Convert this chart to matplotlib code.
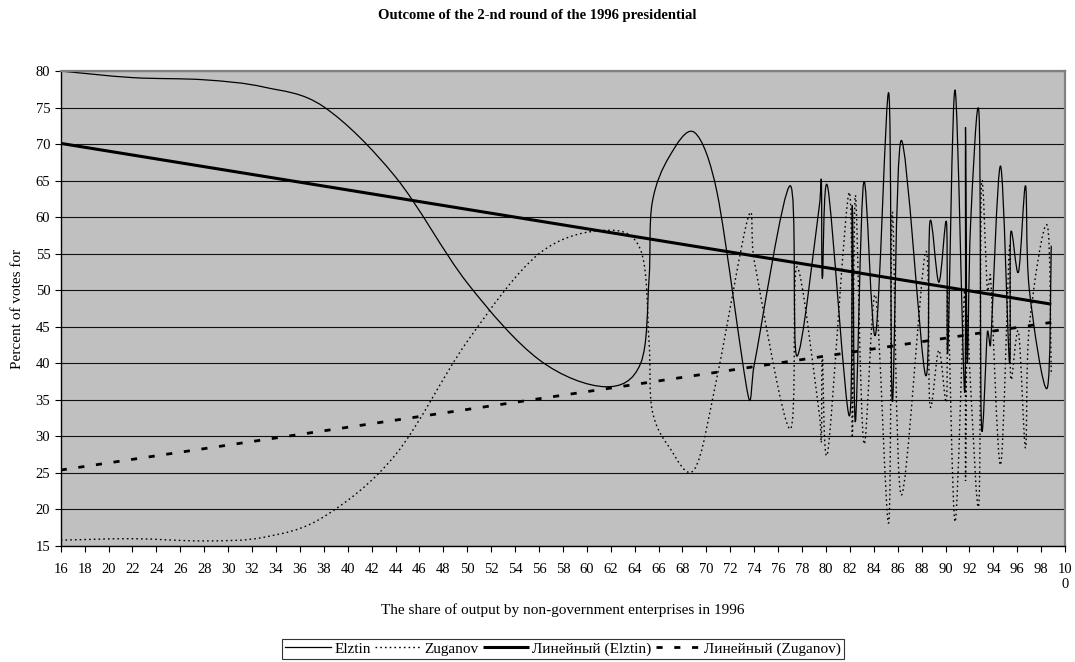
import matplotlib
matplotlib.use("Agg")
import matplotlib.pyplot as plt
from matplotlib.path import Path
from matplotlib.patches import PathPatch
import numpy as np

plt.rcParams['font.family'] = ['Liberation Serif', 'DejaVu Serif']

# share of output by non-government enterprises (x) and votes (y)
share = [16, 22, 28, 33, 38, 44, 50, 56, 61.5, 64.5, 65.2, 65.46, 66.9, 69.0, 70.9,
         73.5, 74.0, 77.0, 77.56, 79.45, 79.62, 79.7, 80.15, 81.95, 82.2, 82.46,
         83.16, 84.14, 85.25, 85.55, 86.29, 88.32, 88.69, 89.44, 90.08, 90.19, 90.8,
         91.6, 91.67, 91.81, 92.09, 92.8, 93.0, 93.5, 93.76, 94.6, 95.35, 95.45,
         96.1, 96.69, 97.0, 98.5, 98.84]
elztin = [80.0, 79.1, 78.8, 77.8, 75.1, 65.5, 51.0, 40.5, 36.8, 40.0, 51.5, 61.9, 68.3,
          71.6, 63.3, 35.5, 39.8, 64.3, 41.0, 61.6, 64.8, 51.6, 64.1, 32.8, 61.6, 32.0,
          64.8, 43.9, 77.0, 34.8, 70.5, 38.4, 59.3, 51.1, 59.3, 41.6, 77.4,
          36.0, 72.3, 40.2, 58.9, 74.1, 31.6, 44.3, 42.5, 67.0, 40.0, 57.8,
          52.5, 64.3, 50.2, 36.6, 56.1]
zuganov = [15.8, 16.0, 15.7, 16.2, 19.0, 27.5, 43.0, 55.0, 58.2, 55.5, 43.0, 33.6, 28.5,
           25.5, 38.2, 60.0, 54.0, 31.0, 53.2, 33.0, 29.5, 41.0, 27.9, 63.4, 29.8, 63.0,
           29.1, 49.3, 18.2, 60.7, 22.0, 55.2, 34.3, 41.8, 34.8, 50.0, 18.3,
           50.0, 23.9, 46.1, 37.0, 21.1, 64.3, 50.0, 52.0, 26.1, 56.0, 38.0,
           44.3, 28.4, 45.0, 58.9, 38.4]

# linear trend lines (end points)
trend_x = [16, 98.84]
trend_elztin = [70.1, 48.1]
trend_zuganov = [25.4, 45.6]


def smooth_path(ax, x, y):
    # Excel-like smoothed line: Catmull-Rom bezier built in screen space
    pts = ax.transData.transform(np.column_stack([x, y]))
    n = len(pts)
    verts = [pts[0]]
    codes = [Path.MOVETO]
    for i in range(n - 1):
        p0 = pts[max(i - 1, 0)]
        p1 = pts[i]
        p2 = pts[i + 1]
        p3 = pts[min(i + 2, n - 1)]
        seg = np.hypot(*(p2 - p1))
        t1 = (p2 - p0) / 6.0
        t2 = (p3 - p1) / 6.0
        l1 = np.hypot(*t1)
        l2 = np.hypot(*t2)
        if l1 > seg / 2 and l1 > 0:
            t1 = t1 * (seg / 2) / l1
        if l2 > seg / 2 and l2 > 0:
            t2 = t2 * (seg / 2) / l2
        verts += [p1 + t1, p2 - t2, p2]
        codes += [Path.CURVE4] * 3
    verts = ax.transData.inverted().transform(np.array(verts))
    return Path(verts, codes)


fig = plt.figure(figsize=(10.75, 6.62), dpi=100)
ax = fig.add_axes([0.0565, 0.1752, 0.9343, 0.7175])
ax.set_facecolor('#C0C0C0')
ax.set_xlim(16, 100)
ax.set_ylim(15, 80)

ax.set_xticks(np.arange(16, 101, 2))
xlabels = [str(v) for v in range(16, 100, 2)] + ['10\n0']
ax.set_xticklabels(xlabels, fontsize=10.5)
ax.set_yticks(np.arange(15, 81, 5))
ax.tick_params(axis='y', labelsize=10.5, length=4, direction='out')
ax.tick_params(axis='x', length=4, direction='out', pad=8)
ax.yaxis.grid(True, color='#101010', linewidth=0.8)
ax.set_axisbelow(True)

for s in ['top', 'right']:
    ax.spines[s].set_color('#808080')
    ax.spines[s].set_linewidth(1.6)
for s in ['left', 'bottom']:
    ax.spines[s].set_color('black')
    ax.spines[s].set_linewidth(1.0)

dots = (0, (1.2, 2.2))
ax.add_patch(PathPatch(smooth_path(ax, share, elztin), facecolor='none',
                       edgecolor='black', linewidth=0.9))
ax.add_patch(PathPatch(smooth_path(ax, share, zuganov), facecolor='none',
                       edgecolor='black', linewidth=1.0, linestyle=dots))

h1, = ax.plot([], [], color='black', linewidth=0.9, label='Elztin')
h2, = ax.plot([], [], color='black', linewidth=1.0, linestyle=dots, label='Zuganov')
h3, = ax.plot(trend_x, trend_elztin, color='black', linewidth=2.2,
              solid_capstyle='butt', label='Линейный (Elztin)')
h4, = ax.plot(trend_x, trend_zuganov, color='black', linewidth=2.0,
              linestyle=(0, (2.2, 4.2)), label='Линейный (Zuganov)')

fig.text(0.5, 0.976, 'Outcome of the 2-nd round of the 1996 presidential',
         ha='center', va='center', fontsize=10.5, fontweight='bold')
ax.set_xlabel('The share of output by non-government enterprises in 1996',
              fontsize=11, labelpad=9)
ax.set_ylabel('Percent of votes for', fontsize=11, labelpad=8)

leg = fig.legend(handles=[h1, h2, h3, h4], loc='center', ncol=4,
                 bbox_to_anchor=(0.524, 0.02), fontsize=11, frameon=True,
                 fancybox=False, edgecolor='black', handlelength=3.0,
                 handletextpad=0.2, columnspacing=0.3, borderpad=0.2)
leg.get_frame().set_linewidth(0.8)

fig.savefig('out.png', dpi=100)
